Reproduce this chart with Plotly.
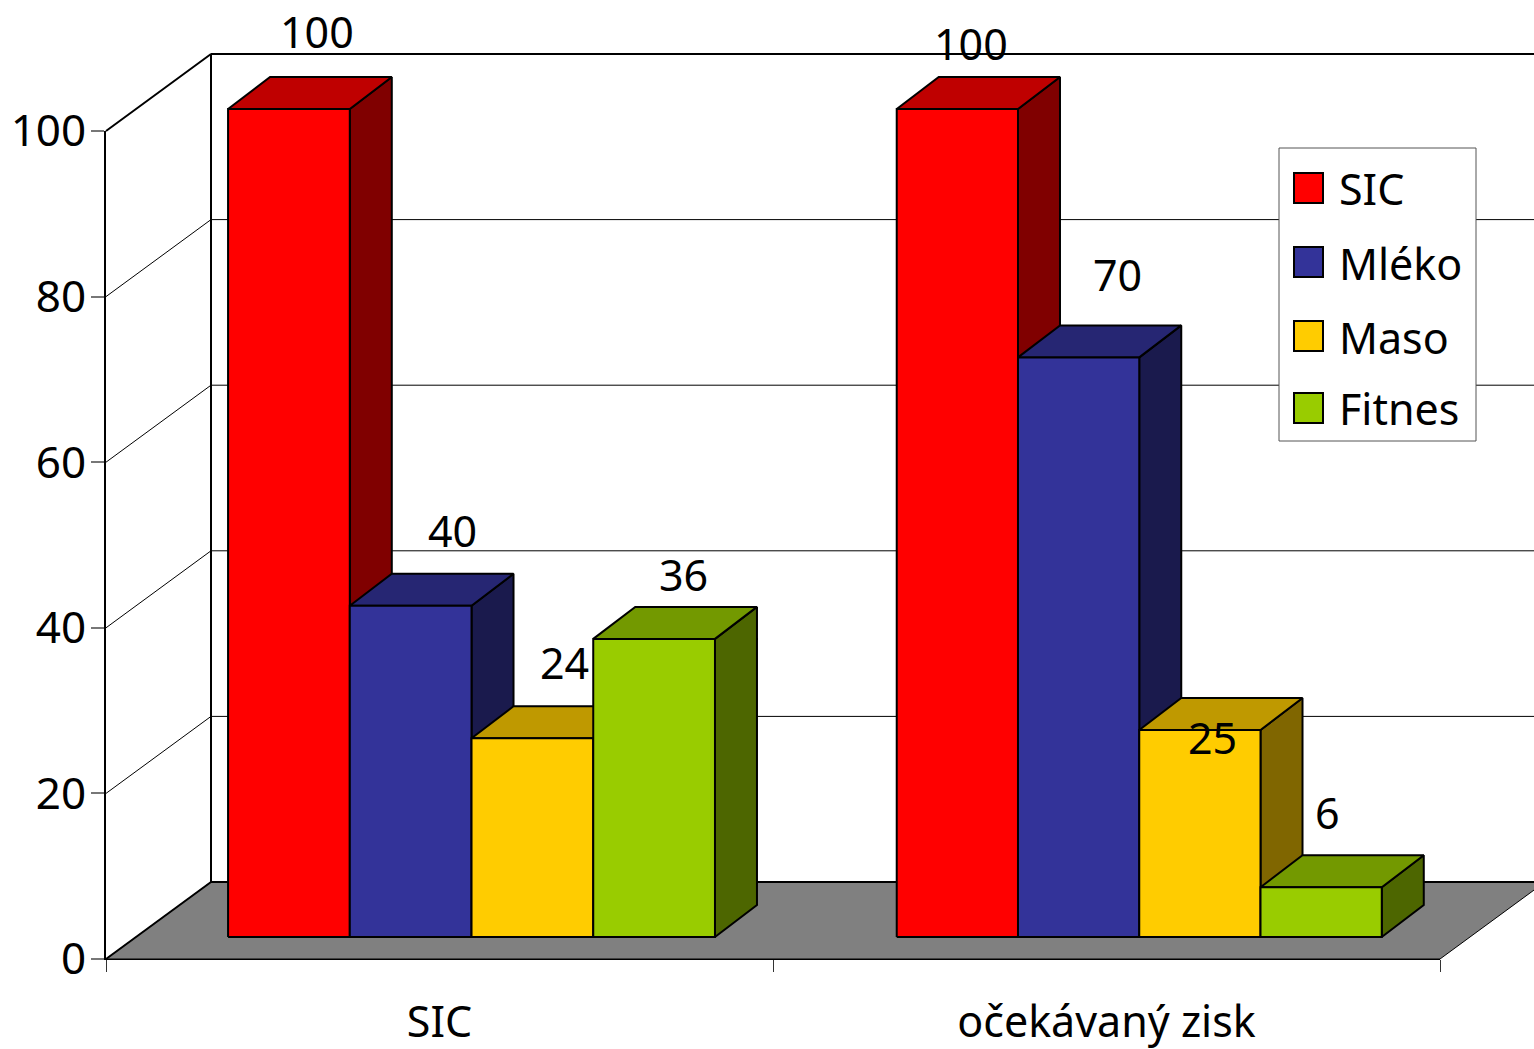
import plotly.graph_objects as go

# ---- data ----
categories = ["SIC", "očekávaný zisk"]
series_names = ["SIC", "Mléko", "Maso", "Fitnes"]
sic_values = [100, 100]
mleko_values = [40, 70]
maso_values = [24, 25]
fitnes_values = [36, 6]
y_ticks = [0, 20, 40, 60, 80, 100]

# ---- styles ----
front_colors = ["#FF0000", "#333399", "#FFCC00", "#99CC00"]
top_colors = ["#BF0000", "#262673", "#BF9900", "#739900"]
side_colors = ["#800000", "#1A1A4D", "#806600", "#4D6600"]
FONT = "Noto Sans"
W, H = 1534, 1049
X0, X2 = 106, 1440      # px of x axis
Y0, Y100 = 959, 131     # px of y axis
PX_X = (X2 - X0) / 2
PX_Y = (Y0 - Y100) / 100
WALL_DX, WALL_DY = 105 / PX_X, 77 / PX_Y
BAR_DX, BAR_DY = 42 / PX_X, 32 / PX_Y
BASE = 22 / PX_Y
BAR_W = [0.1825, 0.1818]
GROUP_START = [0.183, 1.1855]
label_shift = [  # px shift of each data label from the bar's front top centre
    [(28, 78), (14, 66)],
    [(42, 75), (39, 83)],
    [(32, 76), (13, -7)],
    [(29, 64), (6, 75)],
]
all_values = [sic_values, mleko_values, maso_values, fitnes_values]
X_RIGHT = (W + 20 - X0) / PX_X

fig = go.Figure()

# carrier for the visible axes (the 3-D look lives on a full-page overlay with the same scale)
fig.add_trace(go.Scatter(x=[0.5, 1.5], y=sic_values, mode="markers", marker=dict(opacity=0),
                         showlegend=False, hoverinfo="skip", xaxis="x", yaxis="y"))


def poly(xs, ys, fill, name, lw=2.0):
    fig.add_trace(go.Scatter(
        x=xs + xs[:1], y=ys + ys[:1], mode="lines", fill="toself", fillcolor=fill,
        line=dict(color="black", width=lw), showlegend=False,
        hoverinfo="skip", name=name, xaxis="x2", yaxis="y2"))


def line(xs, ys, width=1.0, color="black"):
    fig.add_trace(go.Scatter(
        x=xs, y=ys, mode="lines", line=dict(color=color, width=width),
        showlegend=False, hoverinfo="skip", xaxis="x2", yaxis="y2"))


# back wall, grid lines
line([0, WALL_DX, WALL_DX], [100, 100 + WALL_DY, WALL_DY], 2)
line([WALL_DX, X_RIGHT], [100 + WALL_DY, 100 + WALL_DY], 2)
for v in y_ticks[1:-1]:
    line([0, WALL_DX, X_RIGHT], [v, v + WALL_DY, v + WALL_DY], 1)
# floor
poly([0, 2, 2 + WALL_DX, WALL_DX], [0, 0, WALL_DY, WALL_DY], "#808080", "floor", 1)
line([WALL_DX, 2 + WALL_DX], [WALL_DY, WALL_DY], 2)
line([0, WALL_DX], [0, WALL_DY], 2)

annotations = []
for g in range(2):
    for s in range(4):
        v = all_values[s][g]
        xl = GROUP_START[g] + s * BAR_W[g]
        xr = xl + BAR_W[g]
        yb = BASE
        yt = BASE + v
        name = f"{series_names[s]} – {categories[g]}"
        poly([xr, xr + BAR_DX, xr + BAR_DX, xr], [yb, yb + BAR_DY, yt + BAR_DY, yt], side_colors[s], name + " side")
        poly([xl, xr, xr + BAR_DX, xl + BAR_DX], [yt, yt, yt + BAR_DY, yt + BAR_DY], top_colors[s], name + " top")
        poly([xl, xr, xr, xl], [yb, yb, yt, yt], front_colors[s], name)
        dx, dy = label_shift[s][g]
        annotations.append(dict(
            x=(xl + xr) / 2, y=yt, xref="x2", yref="y2", text=str(v), showarrow=False,
            xshift=dx, yshift=dy, font=dict(family=FONT, size=43, color="black")))

# legend box
shapes = [dict(type="rect", xref="paper", yref="paper", x0=1279 / W, x1=1476 / W,
               y0=1 - 441 / H, y1=1 - 148 / H, fillcolor="white",
               line=dict(color="#555555", width=1))]
leg_y = [188, 262, 336, 408]
for s, name in enumerate(series_names):
    shapes.append(dict(type="rect", xref="paper", yref="paper",
                       x0=1294 / W, x1=1323 / W,
                       y0=1 - (leg_y[s] + 15) / H, y1=1 - (leg_y[s] - 15) / H,
                       fillcolor=front_colors[s], line=dict(color="black", width=2)))
    annotations.append(dict(x=1337 / W, y=1 - (leg_y[s] + 1) / H, xref="paper", yref="paper",
                            xanchor="left", yanchor="middle", text=name, showarrow=False,
                            font=dict(family=FONT, size=43, color="black")))

fig.update_layout(
    width=W, height=H, margin=dict(l=0, r=0, t=0, b=0, pad=0, autoexpand=False),
    paper_bgcolor="white", plot_bgcolor="rgba(0,0,0,0)", showlegend=False,
    annotations=annotations, shapes=shapes,
    font=dict(family=FONT, size=44, color="black"),
    xaxis=dict(
        domain=[X0 / W, X2 / W], range=[0, 2], tickmode="array", tickvals=[0.5, 1.5],
        ticktext=categories, ticks="", showgrid=False, zeroline=False,
        showline=True, linecolor="black", linewidth=1,
        tickfont=dict(family=FONT, size=43), ticklabelstandoff=25,
        minor=dict(tickmode="array", tickvals=[0, 1, 2], ticks="outside", ticklen=12,
                   tickcolor="#333333", tickwidth=1, showgrid=False),
    ),
    yaxis=dict(
        domain=[1 - Y0 / H, 1 - Y100 / H], range=[0, 100], tickmode="array", tickvals=y_ticks,
        ticks="outside", ticklen=13, tickcolor="#777777", tickwidth=1.5, showgrid=False,
        zeroline=False, showline=True, linecolor="black", linewidth=2,
        tickfont=dict(family=FONT, size=44), ticklabelstandoff=-4,
    ),
    xaxis2=dict(domain=[0, 1], range=[-X0 / PX_X, (W - X0) / PX_X], visible=False, anchor="y2"),
    yaxis2=dict(domain=[0, 1], range=[(Y0 - H) / PX_Y, Y0 / PX_Y], visible=False, anchor="x2"),
)
fig.write_html("out.html", config={"displayModeBar": False},
               post_script="document.body.style.margin='0';")
